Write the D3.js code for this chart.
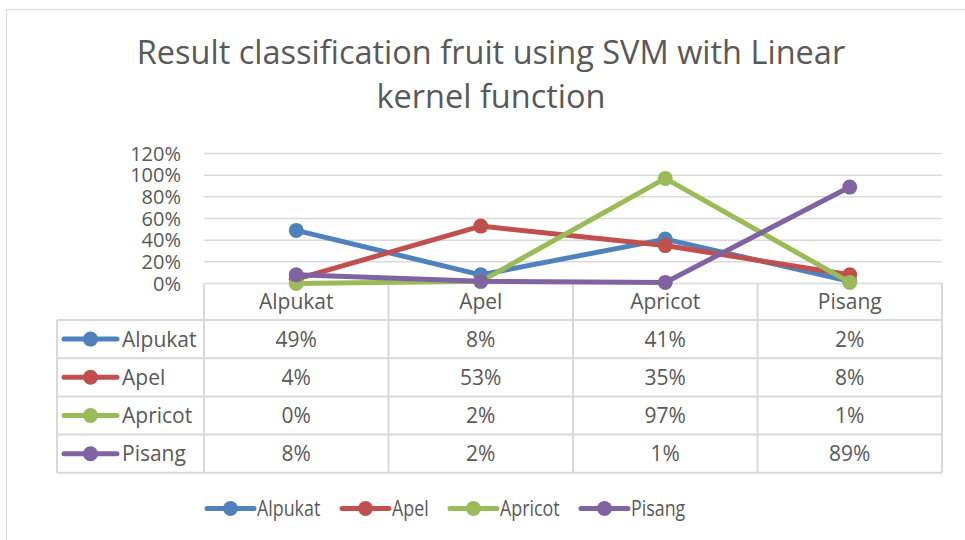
<!DOCTYPE html>
<html>
<head>
<meta charset="utf-8">
<script src="https://cdn.jsdelivr.net/npm/d3@7"></script>
<style>
  body { margin: 0; background: #fff; }
  text { font-family: "Open Sans", "Noto Sans", sans-serif; fill: #595959; }
</style>
</head>
<body>
<div id="chart"></div>
<script>
var width = 965;
var height = 540;

var categories = ["Alpukat", "Apel", "Apricot", "Pisang"];
var seriesNames = ["Alpukat", "Apel", "Apricot", "Pisang"];
var alpukat = [49, 8, 41, 2];
var apel = [4, 53, 35, 8];
var apricot = [0, 2, 97, 1];
var pisang = [8, 2, 1, 89];
var yTicks = [0, 20, 40, 60, 80, 100, 120];
var colors = ["#4F81BD", "#C0504D", "#9BBB59", "#8064A2"];

var series = [alpukat, apel, apricot, pisang];

var plot = {left: 204, right: 942, top: 153.5, bottom: 283.5};
var rowH = 38.2;
var keyLeft = 57;
var fs = "21px"; // table text
var lw = 5, mr = 7.5;

var svg = d3.select("#chart").append("svg")
  .attr("width", width)
  .attr("height", height);

// chart border
svg.append("rect")
  .attr("x", 6.5).attr("y", 9.5)
  .attr("width", width + 20).attr("height", height + 20)
  .style("fill", "none").style("stroke", "#d9d9d9").style("stroke-width", 1);

// title
svg.append("text").attr("x", 491).attr("y", 64)
  .attr("text-anchor", "middle").style("font-size", "32.5px")
  .text("Result classification fruit using SVM with Linear");
svg.append("text").attr("x", 491).attr("y", 108)
  .attr("text-anchor", "middle").style("font-size", "32.5px")
  .text("kernel function");

var x = d3.scaleBand().domain(categories).range([plot.left, plot.right]);
var y = d3.scaleLinear().domain([0, 120]).range([plot.bottom, plot.top]);

// gridlines
svg.selectAll(".grid").data(yTicks).enter().append("line")
  .attr("x1", plot.left).attr("x2", plot.right)
  .attr("y1", function(d) {return y(d);}).attr("y2", function(d) {return y(d);})
  .style("stroke", "#d9d9d9").style("stroke-width", 1.5);

// y labels
svg.selectAll(".ylab").data(yTicks).enter().append("text")
  .attr("x", 181).attr("y", function(d) {return y(d) + 7;})
  .attr("text-anchor", "end").style("font-size", "20px")
  .text(function(d) {return d + "%";});

// data table lines
var tableTop = plot.bottom;
var headBottom = 320;
var tableBottom = headBottom + rowH * 4;
var g = svg.append("g").style("stroke", "#d9d9d9").style("stroke-width", 2);
x.domain().forEach(function(c) {
  g.append("line").attr("x1", x(c)).attr("x2", x(c))
    .attr("y1", tableTop).attr("y2", tableBottom);
});
g.append("line").attr("x1", plot.right).attr("x2", plot.right)
  .attr("y1", tableTop).attr("y2", tableBottom);
g.append("line").attr("x1", keyLeft).attr("x2", keyLeft)
  .attr("y1", headBottom).attr("y2", tableBottom);
for (var i = 0; i <= 4; i++) {
  g.append("line").attr("x1", keyLeft).attr("x2", plot.right)
    .attr("y1", headBottom + i * rowH).attr("y2", headBottom + i * rowH);
}

// category labels
svg.selectAll(".xlab").data(categories).enter().append("text")
  .attr("x", function(d) {return x(d) + x.bandwidth() / 2;})
  .attr("y", 308.5)
  .attr("text-anchor", "middle").style("font-size", fs)
  .text(function(d) {return d;});

// table values + keys
series.forEach(function(vals, si) {
  var cy = headBottom + si * rowH + rowH / 2;
  svg.append("line").attr("x1", 64).attr("x2", 117)
    .attr("y1", cy).attr("y2", cy)
    .style("stroke", colors[si]).style("stroke-width", lw).style("stroke-linecap", "round");
  svg.append("circle").attr("cx", 90.5).attr("cy", cy).attr("r", mr).style("fill", colors[si]);
  svg.append("text").attr("x", 122).attr("y", cy + 7.7)
    .style("font-size", fs).text(seriesNames[si]);
  vals.forEach(function(v, ci) {
    svg.append("text")
      .attr("x", x(categories[ci]) + x.bandwidth() / 2).attr("y", cy + 7.7)
      .attr("text-anchor", "middle").style("font-size", fs)
      .text(v + "%");
  });
});

// lines
var line = d3.line()
  .x(function(d, i) {return x(categories[i]) + x.bandwidth() / 2;})
  .y(function(d) {return y(d);});

series.forEach(function(vals, si) {
  svg.append("path").attr("d", line(vals))
    .style("fill", "none").style("stroke", colors[si])
    .style("stroke-width", lw).style("stroke-linejoin", "round").style("stroke-linecap", "round");
  svg.selectAll(".pt" + si).data(vals).enter().append("circle")
    .attr("cx", function(d, i) {return x(categories[i]) + x.bandwidth() / 2;})
    .attr("cy", function(d) {return y(d);})
    .attr("r", mr).style("fill", colors[si]);
});

// legend (text a bit condensed like the original)
var legX = [207, 342, 450, 581];
var legY = 508.5;
seriesNames.forEach(function(n, si) {
  svg.append("line").attr("x1", legX[si]).attr("x2", legX[si] + 47)
    .attr("y1", legY).attr("y2", legY)
    .style("stroke", colors[si]).style("stroke-width", lw).style("stroke-linecap", "round");
  svg.append("circle").attr("cx", legX[si] + 23.5).attr("cy", legY).attr("r", mr).style("fill", colors[si]);
  svg.append("text")
    .attr("transform", "translate(" + (legX[si] + 50) + "," + (legY + 7.5) + ") scale(0.85,1)")
    .style("font-size", fs).text(n);
});
</script>
</body>
</html>
